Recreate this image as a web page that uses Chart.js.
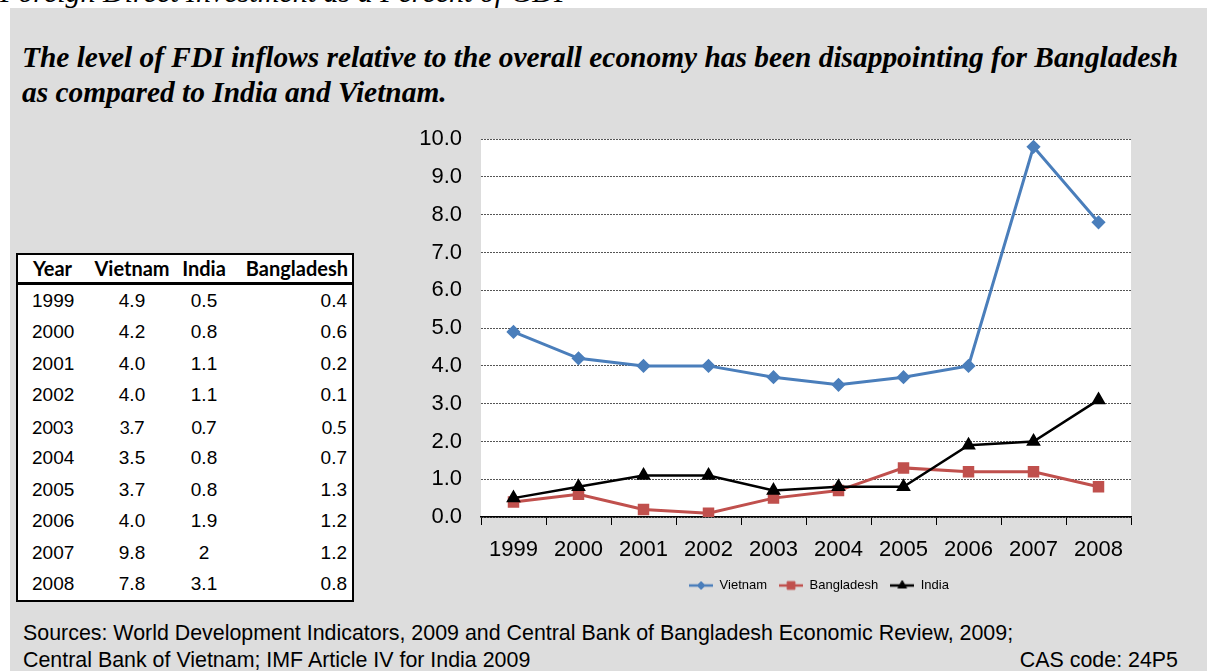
<!DOCTYPE html>
<html>
<head>
<meta charset="utf-8">
<script src="https://cdn.jsdelivr.net/npm/chart.js@4.4.0/dist/chart.umd.min.js"></script>
<style>
  html, body { margin: 0; padding: 0; }
  body { width: 1207px; height: 671px; overflow: hidden; background: #fff; position: relative; font-family: "Liberation Sans", Arial, sans-serif; color: #000; }
  #cut { position: absolute; left: 0px; top: -23px; font: italic 30px/1 "Liberation Serif", serif; white-space: nowrap; }
  #panel { position: absolute; left: 10px; top: 8px; right: 0; bottom: 0; background: #dddddd; }
  #title { position: absolute; left: 22px; top: 40px; font: italic bold 29.4px/35px "Liberation Serif", serif; white-space: nowrap; }
  #fdiTable { position: absolute; left: 16px; top: 253px; width: 338px; border-collapse: collapse; table-layout: fixed; background: #fff; border: 2px solid #000; font-size: 19px; }
  #fdiTable th { font: bold 20px "Lato", sans-serif; height: 27px; line-height: 27px; border-bottom: 3px solid #000; padding: 0; }
  #fdiTable td { height: 31.5px; padding: 0; }
  #fdiTable .c1 { text-align: left; padding-left: 14px; }
  #fdiTable .c2, #fdiTable .c3 { text-align: center; }
  #fdiTable .c4 { text-align: right; padding-right: 5px; }
  #fdiTable th.c1 { padding-left: 15px; }
  #fdiTable th.c4 { padding-right: 4px; }
  #fdiTable tr.alt td { font-family: "Lato", sans-serif; font-size: 18px; }
  #chartBox { position: absolute; left: 380px; top: 107px; width: 760px; height: 495px; }
  .src { position: absolute; left: 23px; font-size: 21.4px; line-height: 27px; white-space: nowrap; }
</style>
</head>
<body>
<div id="cut">Foreign Direct Investment as a Percent of GDP</div>
<div id="panel"></div>
<div id="title">The level of FDI inflows relative to the overall economy has been disappointing for Bangladesh<br>as compared to India and Vietnam.</div>
<table id="fdiTable">
  <colgroup><col style="width:72px"><col style="width:86px"><col style="width:58px"><col></colgroup>
  <thead><tr><th class="c1">Year</th><th class="c2">Vietnam</th><th class="c3">India</th><th class="c4">Bangladesh</th></tr></thead>
  <tbody id="tableBody"></tbody>
</table>
<div id="chartBox"><canvas id="fdiChart"></canvas></div>
<div class="src" style="top:620px">Sources: World Development Indicators, 2009 and Central Bank of Bangladesh Economic Review, 2009;</div>
<div class="src" style="top:647px">Central Bank of Vietnam; IMF Article IV for India 2009</div>
<div class="src" style="top:647px; left:auto; right:29px">CAS code: 24P5</div>

<script>
// FDI inflows, % of GDP
const years = ['1999', '2000', '2001', '2002', '2003', '2004', '2005', '2006', '2007', '2008'];
const vietnam = [4.9, 4.2, 4.0, 4.0, 3.7, 3.5, 3.7, 4.0, 9.8, 7.8];
const india = [0.5, 0.8, 1.1, 1.1, 0.7, 0.8, 0.8, 1.9, 2, 3.1];
const bangladesh = [0.4, 0.6, 0.2, 0.1, 0.5, 0.7, 1.3, 1.2, 1.2, 0.8];
const yTicks = [0, 1, 2, 3, 4, 5, 6, 7, 8, 9, 10];

const BLUE = '#4a7ebb';
const RED = '#c0504d';
const BLACK = '#000000';

// table next to the chart
const body = document.getElementById('tableBody');
years.forEach((y, i) => {
    const tr = document.createElement('tr');
    if (y === '2003') tr.className = 'alt';
    tr.innerHTML = `<td class="c1">${y}</td><td class="c2">${vietnam[i].toFixed(1)}</td>` +
        `<td class="c3">${String(india[i])}</td><td class="c4">${bangladesh[i].toFixed(1)}</td>`;
    body.appendChild(tr);
});

// small line + marker icons for the legend
const makeIcon = (color, style, radius, lw) => {
    const c = document.createElement('canvas');
    c.width = 24; c.height = 14;
    const ctx = c.getContext('2d');
    ctx.strokeStyle = color;
    ctx.lineWidth = lw;
    ctx.beginPath();
    ctx.moveTo(0, 7); ctx.lineTo(24, 7);
    ctx.stroke();
    ctx.fillStyle = color;
    ctx.lineWidth = 1;
    Chart.helpers.drawPoint(ctx, { pointStyle: style, radius: radius, rotation: 0, borderWidth: 1 }, 12, 7);
    return c;
};
const icons = [
    makeIcon(BLUE, 'rectRot', 4, 2.5),
    makeIcon(RED, 'rect', 5.5, 2.5),
    makeIcon(BLACK, 'triangle', 5, 2.5)
];

const whiteArea = {
    id: 'whiteArea',
    beforeDraw(chart) {
        const a = chart.chartArea;
        const ctx = chart.ctx;
        ctx.save();
        ctx.fillStyle = '#ffffff';
        ctx.fillRect(a.left, a.top, a.right - a.left, a.bottom - a.top);
        ctx.restore();
    },
    afterLayout(chart) {
        // nudge legend a bit right
        chart.legend.left += 13;
        chart.legend.right += 13;
    }
};

new Chart(document.getElementById('fdiChart'), {
    type: 'line',
    data: {
        labels: years,
        datasets: [{
            label: 'Vietnam',
            data: vietnam,
            borderColor: BLUE,
            backgroundColor: BLUE,
            borderWidth: 3,
            pointStyle: 'rectRot',
            pointRadius: 5,
            order: 2
        }, {
            label: 'Bangladesh',
            data: bangladesh,
            borderColor: RED,
            backgroundColor: RED,
            borderWidth: 3,
            pointStyle: 'rect',
            pointRadius: 6,
            order: 1
        }, {
            label: 'India',
            data: india,
            borderColor: BLACK,
            backgroundColor: BLACK,
            borderWidth: 2.5,
            pointStyle: 'triangle',
            pointRadius: 6,
            order: 0
        }]
    },
    plugins: [whiteArea],
    options: {
        responsive: true,
        maintainAspectRatio: false,
        animation: false,
        layout: { padding: { right: 8, top: 0 } },
        plugins: {
            tooltip: { enabled: false },
            legend: {
                position: 'bottom',
                fullSize: false,
                labels: {
                    usePointStyle: true,
                    pointStyleWidth: 24,
                    boxHeight: 13,
                    padding: 12,
                    color: '#000',
                    font: { family: '"Liberation Sans", Arial', size: 13 },
                    sort: (a, b) => a.datasetIndex - b.datasetIndex,
                    generateLabels(chart) {
                        const items = Chart.defaults.plugins.legend.labels.generateLabels(chart);
                        items.forEach(it => { it.pointStyle = icons[it.datasetIndex]; });
                        return items;
                    }
                }
            }
        },
        scales: {
            x: {
                offset: true,
                grid: { offset: true, drawOnChartArea: false, drawTicks: true, tickLength: 8, color: '#000', lineWidth: 1 },
                border: { display: true, color: '#000', width: 1.5 },
                ticks: { color: '#000', padding: 12, maxRotation: 0, autoSkip: false, font: { family: '"Liberation Sans", Arial', size: 22 } },
                afterFit(scale) { scale.height = 50; }
            },
            y: {
                min: 0,
                max: yTicks[yTicks.length - 1],
                afterBuildTicks(scale) { scale.ticks = yTicks.map(v => ({ value: v })); },
                grid: { color: '#555', lineWidth: 1, drawTicks: false },
                border: { display: false, dash: [2, 1] },
                ticks: {
                    color: '#000',
                    padding: 19,
                    font: { family: '"Liberation Sans", Arial', size: 22 },
                    callback: v => v.toFixed(1)
                },
                afterFit(scale) { scale.width = 101; }
            }
        }
    }
});
</script>
</body>
</html>
